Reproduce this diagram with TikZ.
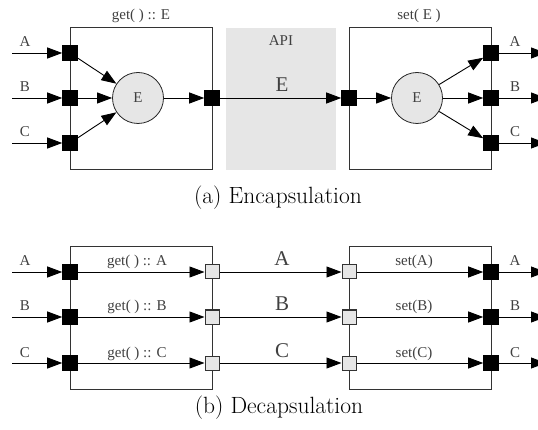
\documentclass[tikz,border=0pt]{standalone}
\usepackage{fontspec}
\newfontfamily\labelfont{Liberation Serif}
\usetikzlibrary{arrows.meta}
\definecolor{panelgray}{HTML}{E6E6E6}
\begin{document}
\begin{tikzpicture}[x=1pt,y=-1pt,
  port/.style={draw=black, fill=black, minimum size=15pt, inner sep=0pt, line width=0.6pt},
  gport/.style={draw=black!80, fill=panelgray, minimum size=14pt, inner sep=0pt, line width=1pt},
  hub/.style={circle, draw=black!85, fill=panelgray, minimum size=51pt, inner sep=0pt,
    line width=0.8pt, font=\labelfont\fontsize{15}{15}\selectfont, text=black!75},
  frame/.style={draw=black!80, line width=1pt, minimum width=142pt, minimum height=142pt, inner sep=0pt},
  flow/.style={line width=0.9pt, -{Triangle[length=15pt,width=11pt]}},
  lbl/.style={font=\labelfont\fontsize{15}{15}\selectfont, text=black!75, inner sep=0pt, anchor=base},
  biglbl/.style={font=\labelfont\fontsize{21}{21}\selectfont, text=black!75, inner sep=0pt, anchor=base},
  caption/.style={font=\fontsize{23.5}{26}\selectfont, inner sep=0pt, anchor=base}
]
\useasboundingbox (0,0) rectangle (538,430);

% ---------------- (a) Encapsulation ----------------
\node[fill=panelgray, minimum width=110pt, minimum height=142pt, inner sep=0pt] (api) at (281,99) {};
\node[lbl] (apilbl) at (281,46) {API};

\node[frame] (getbox) at (141,99) {};
\node[lbl] (gettitle) at (141,20) {get( ) :: E};
\node[frame] (setbox) at (420,99) {};
\node[lbl] (settitle) at (419,20) {set( E )};

\coordinate (sa) at (12,53);
\coordinate (sb) at (12,98);
\coordinate (sc) at (12,143);
\node[port] (ia) at (70,53) {};
\node[port] (ib) at (70,98) {};
\node[port] (ic) at (70,143) {};
\node[hub] (he) at (138,98) {E};
\node[port] (oe) at (212,98) {};

\node[port] (ie) at (349,98) {};
\node[hub] (hs) at (417,98) {E};
\node[port] (ra) at (491,53) {};
\node[port] (rb) at (491,98) {};
\node[port] (rc) at (491,143) {};
\coordinate (ta) at (546,53);
\coordinate (tb) at (546,98);
\coordinate (tc) at (546,143);

\node[lbl] (la) at (25,47) {A};
\node[lbl] (lb) at (25,92) {B};
\node[lbl] (lc) at (25,137) {C};
\node[lbl] (rla) at (515,47) {A};
\node[lbl] (rlb) at (515,92) {B};
\node[lbl] (rlc) at (515,137) {C};
\node[biglbl] (elbl) at (282,92) {E};

\draw[flow] (sa) -- (ia);
\draw[flow] (sb) -- (ib);
\draw[flow] (sc) -- (ic);
\draw[flow] (ia) -- (he);
\draw[flow] (ib) -- (he);
\draw[flow] (ic) -- (he);
\draw[flow] (he) -- (oe);
\draw[flow] (oe) -- (ie);
\draw[flow] (ie) -- (hs);
\draw[flow] (hs) -- (ra);
\draw[flow] (hs) -- (rb);
\draw[flow] (hs) -- (rc);
\draw[flow] (ra) -- (ta);
\draw[flow] (rb) -- (tb);
\draw[flow] (rc) -- (tc);

\node[caption] (capa) at (278,204) {(a) Encapsulation};

% ---------------- (b) Decapsulation ----------------
\node[frame] (getsbox) at (141,318) {};
\node[frame] (setsbox) at (420,318) {};

\foreach \r/\y in {A/272, B/317, C/363} {
  \coordinate (s\r) at (12,\y);
  \coordinate (t\r) at (546,\y);
  \node[port]  (in\r)  at (70,\y)  {};
  \node[gport] (gl\r)  at (212,\y) {};
  \node[gport] (gr\r)  at (349,\y) {};
  \node[port]  (out\r) at (491,\y) {};
  \node[lbl] (li\r) at (25,\y-6) {\r};
  \node[lbl] (lg\r) at (137,\y-6) {get( ) :: \r};
  \node[biglbl] (lm\r) at (282,\y-6) {\r};
  \node[lbl] (ls\r) at (414,\y-6) {set(\r)};
  \node[lbl] (lo\r) at (515,\y-6) {\r};
  \draw[flow] (s\r) -- (in\r);
  \draw[flow] (in\r) -- (gl\r);
  \draw[flow] (gl\r) -- (gr\r);
  \draw[flow] (gr\r) -- (out\r);
  \draw[flow] (out\r) -- (t\r);
}

\node[caption] (capb) at (279,413) {(b) Decapsulation};
\end{tikzpicture}
\end{document}
